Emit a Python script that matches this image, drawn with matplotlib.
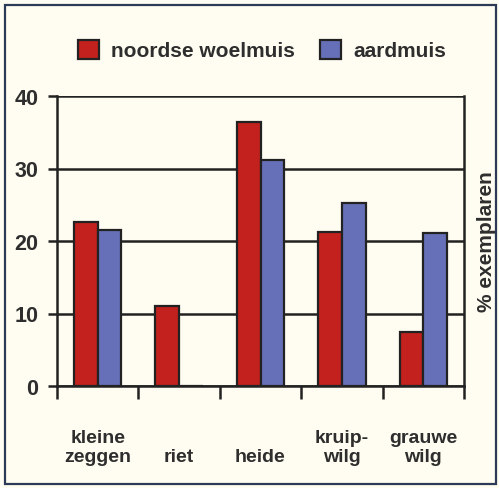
import matplotlib
matplotlib.use("Agg")
import matplotlib.pyplot as plt
from matplotlib.patches import Rectangle
import numpy as np

categories = ["kleine\nzeggen", "riet", "heide", "kruip-\nwilg", "grauwe\nwilg"]
woelmuis = [22.6, 11.0, 36.4, 21.2, 7.4]
aardmuis = [21.5, 0.0, 31.2, 25.2, 21.1]
series_names = ["noordse woelmuis", "aardmuis"]
yticks = [0, 10, 20, 30, 40]

RED = "#c2211d"
BLUE = "#6670b9"
EDGE = "#222222"
TXT = "#2e2e2e"
BG = "#fffdf1"

plt.rcParams['font.family'] = ['Liberation Sans', 'DejaVu Sans']
plt.rcParams['font.weight'] = 'bold'
plt.rcParams['axes.labelweight'] = 'bold'

W, H = 499, 489
fig = plt.figure(figsize=(W/100, H/100), dpi=100, facecolor=BG)
ax = fig.add_axes([57/W, 102/H, 407/W, 290/H])
ax.set_facecolor(BG)

x = np.arange(len(categories))
bw = 0.29
b1 = ax.bar(x - bw/2, woelmuis, bw, color=RED, edgecolor=EDGE, linewidth=1.6, zorder=3, label=series_names[0])
b2 = ax.bar(x + bw/2, aardmuis, bw, color=BLUE, edgecolor=EDGE, linewidth=1.6, zorder=3, label=series_names[1])

ax.set_xlim(-0.5, len(categories) - 0.5)
ax.set_ylim(0, 40)
ax.set_yticks(yticks)
ax.yaxis.grid(True, color=EDGE, linewidth=1.8, zorder=1)
ax.set_axisbelow(True)

for s in ['left', 'bottom', 'right']:
    ax.spines[s].set_color(EDGE)
    ax.spines[s].set_linewidth(1.8)
ax.spines['top'].set_visible(False)

ax.tick_params(axis='y', direction='out', length=6.5, width=1.8, color=EDGE,
               labelsize=15.5, labelcolor=TXT, pad=7)

ax.set_xticks(x)
ax.set_xticklabels(categories, fontsize=14, color=TXT, linespacing=1.15)
for lbl in ax.get_xticklabels():
    lbl.set_verticalalignment('bottom')
ax.tick_params(axis='x', which='major', length=0, pad=57)
ax.set_xticks(np.arange(-0.5, len(categories)), minor=True)
ax.tick_params(axis='x', which='minor', direction='out', length=9, width=1.8, color=EDGE)

ax.yaxis.set_label_position('right')
ax.set_ylabel("% exemplaren", fontsize=15, color=TXT, labelpad=9, fontweight='bold')

fig.legend(handles=[b1, b2], labels=series_names, loc='center',
           bbox_to_anchor=(262/W, 1 - 51/H), ncol=2, frameon=False,
           fontsize=15, handlelength=1.0, handleheight=1.05,
           handletextpad=0.6, columnspacing=1.2, labelcolor=TXT)

fig.patches.append(Rectangle((5/W, 4/H), 491/W, 479/H, transform=fig.transFigure,
                             fill=False, edgecolor="#2c3a58", linewidth=1.6))

fig.savefig("out.png", dpi=100, facecolor=BG)
